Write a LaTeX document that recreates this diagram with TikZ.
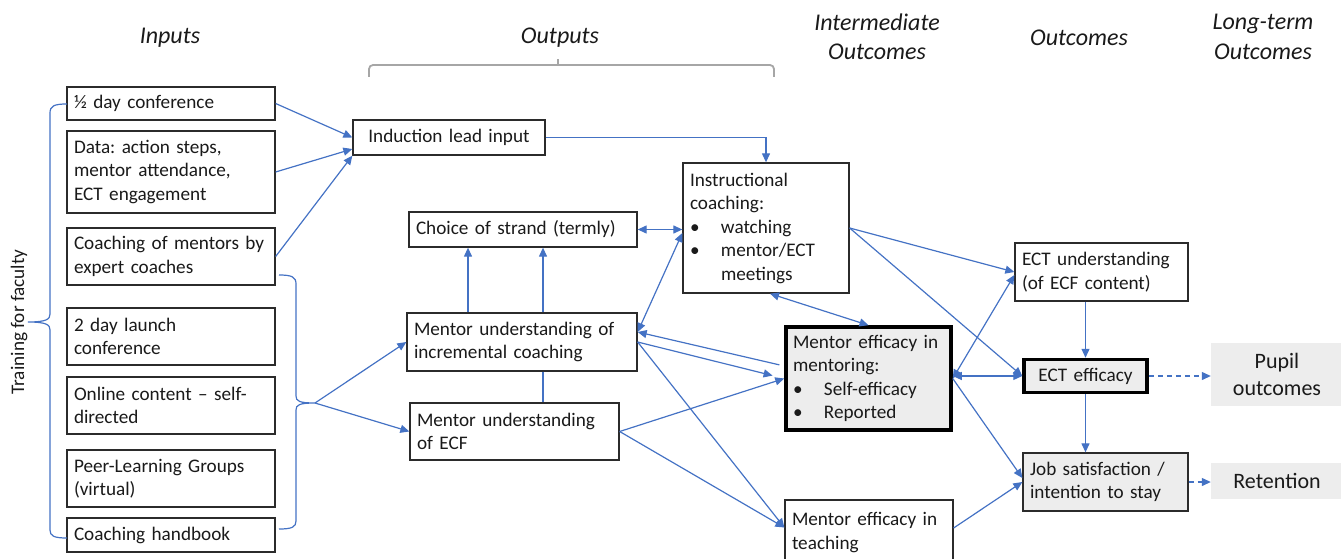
\documentclass[tikz,border=0pt]{standalone}
\usepackage{fontspec}
\setmainfont{Carlito}
\usetikzlibrary{arrows.meta,calc}
\definecolor{flow}{HTML}{4472C4}
\definecolor{boxline}{HTML}{2B2B2B}
\definecolor{shade}{HTML}{EDEDED}
\definecolor{bracegray}{HTML}{A6A6A6}
\definecolor{ink}{HTML}{1A1A1A}
\frenchspacing
\newcommand\bodyfont{\fontsize{19.2}{23.5}\selectfont}
\newcommand\headfont{\fontsize{24}{29.5}\selectfont\itshape}
\newcommand\bigfont{\fontsize{22}{26.5}\selectfont}
\newcommand\bulitem{\makebox[31pt][l]{\textbullet}}
\begin{document}
\begin{tikzpicture}[x=1pt,y=-1pt,
  >={Triangle[length=9pt,width=8pt]},
  box/.style={draw=boxline,line width=1.3pt,fill=white,inner xsep=7pt,inner ysep=0pt,
    align=left,font=\bodyfont,text=ink},
  strongbox/.style={box,draw=black,line width=3.5pt,fill=shade},
  softbox/.style={fill=shade,inner sep=0pt,align=center,font=\bigfont,text=ink},
  head/.style={font=\headfont,text=ink,align=center},
  wire/.style={draw=flow,line width=1.2pt},
  link/.style={wire,->},
  both/.style={wire,<->},
  hint/.style={wire,->,dash pattern=on 5pt off 4pt},
  bracket/.style={draw=flow,line width=1.2pt},
]
\useasboundingbox (0,0) rectangle (1341,559);

% column headings
\node[head] (hin)  at (170,38)  {Inputs};
\node[head] (hout) at (560,38)  {Outputs};
\node[head] (hmid) at (877,37)  {Intermediate\\Outcomes};
\node[head] (hoc)  at (1079,38) {Outcomes};
\node[head] (hlt)  at (1263,37) {Long-term\\Outcomes};

% grey bracket under "Outputs"
\draw[bracegray,line width=1.8pt,rounded corners=4pt]
  (369,77) -- (369,65) -- (774,65) -- (774,77);
\draw[bracegray,line width=1.8pt] (558,65) -- (558,59);

% inputs
\node[box,text width=194pt,minimum height=33pt] (halfday)  at (171,103.5) {½ day conference};
\node[box,text width=194pt,minimum height=82pt] (data)     at (171,172)   {Data: action steps,\\mentor attendance,\\ECT engagement};
\node[box,text width=194pt,minimum height=57pt] (coachexp) at (171,256.5) {Coaching of mentors by\\expert coaches};
\node[box,text width=194pt,minimum height=57pt] (launch)   at (171,336.5) {2 day launch\\conference};
\node[box,text width=194pt,minimum height=57pt] (online)   at (171,405.5) {Online content – self-\\directed};
\node[box,text width=194pt,minimum height=57pt] (peer)     at (171,478.5) {Peer-Learning Groups\\(virtual)};
\node[box,text width=194pt,minimum height=34pt] (handbook) at (171,535)   {Coaching handbook};

% left brace: training for faculty
\draw[bracket] (67,104) .. controls (54,104) and (50,106) .. (50,113) -- (50,314)
  .. controls (50,319) and (47,322) .. (28,322)
  .. controls (47,322) and (50,325) .. (50,330) -- (50,530)
  .. controls (50,536) and (54,538) .. (67,538);
\node[rotate=90,font=\bodyfont,text=ink] (train) at (19,322) {Training for faculty};

% right brace gathering the mentor training inputs
\draw[bracket] (279,275) .. controls (292,275) and (296,277) .. (296,284) -- (296,396)
  .. controls (296,401) and (299,403) .. (315,403)
  .. controls (299,403) and (296,405) .. (296,410) -- (296,521)
  .. controls (296,527) and (292,529) .. (279,529);
\coordinate (bracetip) at (315,403);

% outputs
\node[box,text width=178pt,minimum height=35pt,align=center] (induction) at (449,137.5) {Induction lead input};
\node[box,text width=214pt,minimum height=35pt] (choice)      at (523,229.5) {Choice of strand (termly)};
\node[box,text width=216pt,minimum height=58pt] (incremental) at (522,342)   {Mentor understanding of\\incremental coaching};
\node[box,text width=195pt,minimum height=57pt] (ecf)         at (514.5,431.5) {Mentor understanding\\of ECF};
\node[box,text width=152pt,minimum height=130pt] (instr)      at (766,228)   {Instructional\\coaching:\\\bulitem watching\\\bulitem mentor/ECT\\\hspace*{31pt}meetings};

% intermediate outcomes
\node[strongbox,text width=151pt,minimum height=103pt] (mentoreff) at (868.5,378.5) {Mentor efficacy in\\mentoring:\\\bulitem Self-efficacy\\\bulitem Reported};
\node[box,text width=154pt,minimum height=65pt] (mentorteach) at (869,532.5) {Mentor efficacy in\\teaching};

% outcomes
\node[box,text width=159pt,minimum height=58pt] (ectund) at (1101.5,272) {ECT understanding\\(of ECF content)};
\node[strongbox,text width=109pt,minimum height=33pt,align=center] (ecteff) at (1085.5,376) {ECT efficacy};
\node[box,fill=shade,text width=151pt,minimum height=58pt] (jobsat) at (1105.5,482) {Job satisfaction /\\intention to stay};

% long-term outcomes
\node[softbox,minimum width=132pt,minimum height=63pt] (pupil)     at (1277,374.5) {Pupil\\outcomes};
\node[softbox,minimum width=132pt,minimum height=36pt] (retention) at (1277,481)   {Retention};

% inputs to induction lead
\draw[link] (halfday.east) -- (induction.west);
\draw[link] (data.east) -- ([yshift=-11.5pt]induction.west);
\draw[link] (coachexp.east) -- (induction.south west);
\draw[link] (induction.east) -| (instr.north);

% brace to mentor understanding
\draw[link] (bracetip) -- (incremental.west);
\draw[link] (bracetip) -- (ecf.west);

% within outputs
\draw[both] (choice.east) -- (choice.east -| instr.west);
\draw[link] ([xshift=-54pt]incremental.north) -- ([xshift=-54pt]incremental.north |- choice.south);
\draw[link] ([xshift=21pt]incremental.north) -- ([xshift=21pt]incremental.north |- choice.south);
\draw[wire] ([xshift=21pt]incremental.south) -- ([xshift=21pt]incremental.south |- ecf.north);
\draw[both] ([yshift=10pt]incremental.east) -- ([yshift=-5pt]instr.west);

% outputs to intermediate outcomes
\draw[link,shorten <=5pt] ([yshift=12.5pt]mentoreff.west) -- ([yshift=10pt]incremental.east);
\draw[link,shorten >=12pt] (incremental.east) -- (mentoreff.west);
\draw[link] (incremental.east) -- ([yshift=5pt]mentorteach.west);
\draw[link] (ecf.east) -- (mentoreff.west);
\draw[link] (ecf.east) -- ([yshift=5pt]mentorteach.west);
\draw[both] ([xshift=4pt]instr.south) -- (mentoreff.north);

% to outcomes
\draw[link] (instr.east) -- (ectund.west);
\draw[link] (instr.east) -- (ecteff.west);
\draw[both] (mentoreff.east) -- ([yshift=-3pt]ectund.west);
\draw[both] (ecteff.west -| mentoreff.east) -- (ecteff.west);
\draw[link] (mentoreff.east) -- ([yshift=4pt]jobsat.west);
\draw[link] ([yshift=4.5pt]mentorteach.east) -- (jobsat.west);
\draw[link] (ecteff.north |- ectund.south) -- (ecteff.north);
\draw[link] (ecteff.south) -- (ecteff.south |- jobsat.north);

% to long-term outcomes
\draw[hint] (ecteff.east) -- (ecteff.east -| pupil.west);
\draw[hint] (jobsat.east) -- (jobsat.east -| retention.west);
\end{tikzpicture}
\end{document}
